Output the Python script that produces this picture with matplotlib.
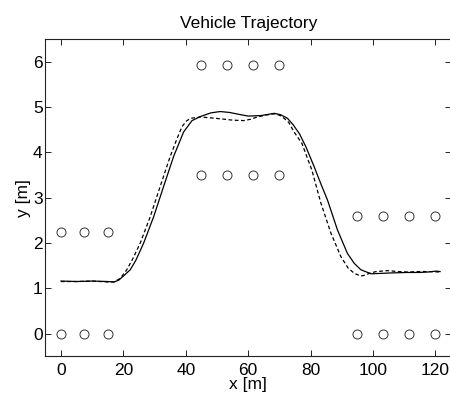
import matplotlib
matplotlib.use("Agg")
import matplotlib.pyplot as plt

plt.rcParams['font.family'] = ['Liberation Sans', 'DejaVu Sans']

# cone positions (x, y)
cone_x = [0, 7.5, 15, 0, 7.5, 15,
          45, 53.33, 61.67, 70, 45, 53.33, 61.67, 70,
          95, 103.33, 111.67, 120, 95, 103.33, 111.67, 120]
cone_y = [0, 0, 0, 2.25, 2.25, 2.25,
          3.5, 3.5, 3.5, 3.5, 5.92, 5.92, 5.92, 5.92,
          0, 0, 0, 0, 2.6, 2.6, 2.6, 2.6]

# vehicle trajectory (solid)
traj_x = [0, 5, 10, 15, 17, 18.5, 20, 22.2, 24, 26.5, 29.7, 32.9, 36.1,
          39.3, 42, 44.7, 48, 51, 54, 57.6, 60, 64, 68.3, 70.4, 72.6,
          74.5, 76.5, 78.5, 81.1, 83.2, 85.4, 88.6, 91.8, 94, 96.1, 99.4,
          102.6, 106, 111, 115, 117.6, 120.3, 121.5]
traj_y = [1.16, 1.15, 1.16, 1.15, 1.14, 1.18, 1.27, 1.41, 1.62, 2.0, 2.58,
          3.25, 3.91, 4.45, 4.70, 4.79, 4.87, 4.90, 4.88, 4.83, 4.80, 4.81,
          4.86, 4.83, 4.75, 4.60, 4.40, 4.12, 3.69, 3.32, 2.95, 2.29, 1.77,
          1.55, 1.41, 1.32, 1.33, 1.34, 1.35, 1.35, 1.36, 1.38, 1.37]

# reference trajectory (dashed)
ref_x = [0, 5, 10, 15, 17, 19, 21, 23, 25.4, 28.6, 31.8, 35.0, 37, 38.8,
         40.2, 41.5, 44.7, 48, 51.1, 55, 58.6, 60.8, 62.9, 65.5, 68.3, 70,
         71.5, 73, 74.7, 77.2, 80.4, 83.3, 86.5, 89.7, 92, 94.0, 96.1, 97.5,
         98.8, 101, 104.7, 108, 111.1, 115, 117.6, 121.3]
ref_y = [1.15, 1.15, 1.16, 1.14, 1.14, 1.22, 1.40, 1.65, 2.0, 2.58, 3.25,
         3.91, 4.27, 4.57, 4.69, 4.75, 4.78, 4.76, 4.74, 4.71, 4.70, 4.73,
         4.78, 4.82, 4.85, 4.82, 4.75, 4.66, 4.45, 4.20, 3.61, 2.88, 2.22,
         1.70, 1.45, 1.33, 1.27, 1.29, 1.33, 1.37, 1.39, 1.37, 1.36, 1.37,
         1.37, 1.36]

fig = plt.figure(figsize=(4.5, 3.96), dpi=100)
ax = fig.add_axes([45.4 / 450, 0.1002, 405.6 / 450, 0.8013])

ax.plot(traj_x, traj_y, color='black', linewidth=0.9, linestyle='-')
ax.plot(ref_x, ref_y, color='black', linewidth=0.9, linestyle=(0, (3, 2)))
ax.plot(cone_x, cone_y, linestyle='none', marker='o', markersize=6.5,
        markerfacecolor='white', markeredgecolor='#333333', markeredgewidth=0.7)

ax.set_xlim(-5, 125)
ax.set_ylim(-0.5, 6.5)
ax.set_xticks([0, 20, 40, 60, 80, 100, 120])
ax.set_yticks([0, 1, 2, 3, 4, 5, 6])

ax.tick_params(direction='in', top=True, right=True, length=4, width=0.7,
               labelsize=12.5, color='#222222')
ax.tick_params(axis='x', pad=5)
ax.tick_params(axis='y', pad=2)
for s in ax.spines.values():
    s.set_linewidth(0.8)
    s.set_color('#222222')

ax.set_title('Vehicle Trajectory', fontsize=12.5, pad=8)
ax.set_xlabel('x [m]', fontsize=12.5, labelpad=-1)
ax.set_ylabel('y [m]', fontsize=12.5, labelpad=1)

fig.savefig('out.png', dpi=100)
